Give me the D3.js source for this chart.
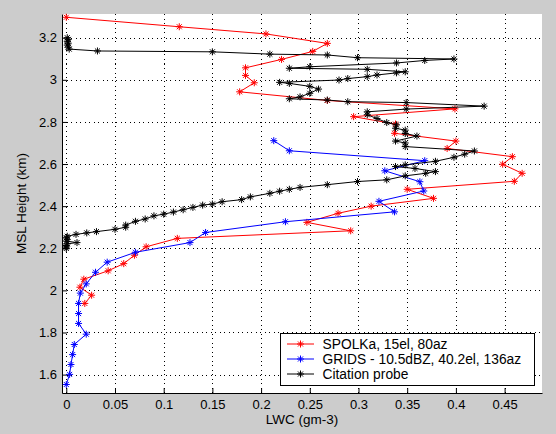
<!DOCTYPE html>
<html lang="en">
<head>
<meta charset="utf-8">
<title>LWC profile</title>
<script src="https://cdn.jsdelivr.net/npm/d3@7"></script>
<style>
  body { margin: 0; background: #cccccc; }
  svg { display: block; font-family: "Liberation Sans", Arial, sans-serif; }
</style>
</head>
<body>
<script>
// tick values and labels
var xTicks = [0, 0.05, 0.1, 0.15, 0.2, 0.25, 0.3, 0.35, 0.4, 0.45];
var xTickLabels = ["0", "0.05", "0.1", "0.15", "0.2", "0.25", "0.3", "0.35", "0.4", "0.45"];
var yTicks = [1.6, 1.8, 2, 2.2, 2.4, 2.6, 2.8, 3, 3.2];
var yTickLabels = ["1.6", "1.8", "2", "2.2", "2.4", "2.6", "2.8", "3", "3.2"];

var seriesNames = ["SPOLKa, 15el, 80az", "GRIDS - 10.5dBZ, 40.2el, 136az", "Citation probe"];

// [LWC, height]
var spolka = [
  [0.000, 3.297], [0.116, 3.252], [0.205, 3.218], [0.268, 3.173], [0.253, 3.135],
  [0.221, 3.097], [0.184, 3.057], [0.184, 3.021], [0.193, 2.986], [0.178, 2.943],
  [0.268, 2.902], [0.399, 2.862], [0.295, 2.825], [0.338, 2.790], [0.337, 2.746],
  [0.400, 2.709], [0.391, 2.674], [0.458, 2.635], [0.448, 2.599], [0.468, 2.556],
  [0.460, 2.518], [0.350, 2.480], [0.377, 2.437], [0.313, 2.400], [0.279, 2.366],
  [0.247, 2.323], [0.292, 2.283], [0.114, 2.247], [0.082, 2.207], [0.070, 2.167],
  [0.059, 2.127], [0.043, 2.093], [0.018, 2.053], [0.014, 2.015], [0.026, 1.977],
  [0.019, 1.938]
];

var grids = [
  [0.213, 2.711], [0.229, 2.663], [0.368, 2.616], [0.327, 2.568], [0.363, 2.516],
  [0.367, 2.472], [0.321, 2.423], [0.337, 2.373], [0.225, 2.326], [0.143, 2.275],
  [0.127, 2.227], [0.071, 2.181], [0.042, 2.134], [0.030, 2.086], [0.0205, 2.031],
  [0.0144, 1.987], [0.0126, 1.938], [0.0126, 1.890], [0.0126, 1.843], [0.0205, 1.792],
  [0.0082, 1.743], [0.0065, 1.695], [0.0048, 1.648], [0.0034, 1.601], [0.000, 1.553]
];

var citation = [
  [0.001, 3.200], [0.002, 3.192], [0.001, 3.183], [0.002, 3.174], [0.001, 3.165],
  [0.002, 3.155], [0.003, 3.146], [0.032, 3.137], [0.150, 3.133], [0.209, 3.122],
  [0.268, 3.118], [0.299, 3.105], [0.398, 3.099], [0.368, 3.092], [0.339, 3.080],
  [0.250, 3.062], [0.229, 3.055], [0.309, 3.050], [0.348, 3.038], [0.339, 3.033],
  [0.319, 3.023], [0.309, 3.015], [0.289, 3.006], [0.280, 2.999], [0.219, 2.988],
  [0.229, 2.983], [0.250, 2.969], [0.259, 2.956], [0.250, 2.936], [0.240, 2.919],
  [0.229, 2.910], [0.268, 2.904], [0.289, 2.896], [0.349, 2.892], [0.429, 2.875],
  [0.349, 2.861], [0.309, 2.848], [0.309, 2.834], [0.319, 2.816], [0.329, 2.797],
  [0.339, 2.786], [0.338, 2.770], [0.348, 2.761], [0.348, 2.745], [0.360, 2.733],
  [0.338, 2.709], [0.348, 2.700], [0.348, 2.683], [0.419, 2.662], [0.409, 2.647],
  [0.398, 2.632], [0.379, 2.613], [0.348, 2.596], [0.338, 2.588], [0.358, 2.579],
  [0.379, 2.564], [0.369, 2.556], [0.348, 2.544], [0.329, 2.525], [0.299, 2.517],
  [0.268, 2.502], [0.240, 2.489], [0.229, 2.480], [0.219, 2.471], [0.209, 2.461],
  [0.189, 2.444], [0.180, 2.431], [0.160, 2.421], [0.150, 2.410], [0.140, 2.405],
  [0.130, 2.394], [0.120, 2.383], [0.110, 2.372], [0.100, 2.362], [0.090, 2.354],
  [0.081, 2.339], [0.071, 2.328], [0.061, 2.310], [0.061, 2.300], [0.050, 2.290],
  [0.031, 2.279], [0.021, 2.273], [0.010, 2.266], [0.001, 2.257], [0.000, 2.250],
  [0.001, 2.242], [0.000, 2.234], [0.011, 2.227], [0.001, 2.221], [0.000, 2.213],
  [0.000, 2.206], [0.000, 2.199]
];

var w = 556, h = 434;
var plotL = 62, plotR = 542, plotT = 14, plotB = 393;
var colors = ["#ff0000", "#0000ff", "#000000"];

var xScale = d3.scaleLinear().domain([-0.0044, 0.4884]).range([plotL, plotR]);
var yScale = d3.scaleLinear().domain([1.5126, 3.3126]).range([plotB, plotT]);

var svg = d3.select("body").append("svg")
  .attr("width", w)
  .attr("height", h);

svg.append("rect")
  .attr("width", w).attr("height", h)
  .attr("fill", "#cccccc");

svg.append("rect")
  .attr("x", plotL).attr("y", plotT)
  .attr("width", plotR - plotL).attr("height", plotB - plotT)
  .attr("fill", "#ffffff");

// dotted grid
var grid = svg.append("g")
  .attr("stroke", "#000")
  .attr("stroke-width", 1)
  .attr("stroke-dasharray", "1,3.5")
  .attr("shape-rendering", "crispEdges");

grid.selectAll("line.gx")
  .data(xTicks)
  .enter()
  .append("line")
  .attr("x1", function(d) { return Math.round(xScale(d)) + 0.5; })
  .attr("x2", function(d) { return Math.round(xScale(d)) + 0.5; })
  .attr("y1", plotT)
  .attr("y2", plotB);

grid.selectAll("line.gy")
  .data(yTicks)
  .enter()
  .append("line")
  .attr("y1", function(d) { return Math.round(yScale(d)) + 0.5; })
  .attr("y2", function(d) { return Math.round(yScale(d)) + 0.5; })
  .attr("x1", plotL)
  .attr("x2", plotR);

// axes
var xAxis = d3.axisBottom(xScale)
  .tickValues(xTicks)
  .tickFormat(function(d, i) { return xTickLabels[i]; })
  .tickSizeInner(-5)
  .tickSizeOuter(0)
  .tickPadding(7);

var yAxis = d3.axisLeft(yScale)
  .tickValues(yTicks)
  .tickFormat(function(d, i) { return yTickLabels[i]; })
  .tickSizeInner(-5)
  .tickSizeOuter(0)
  .tickPadding(5);

var gx = svg.append("g")
  .attr("transform", "translate(0," + plotB + ")")
  .call(xAxis);

var gy = svg.append("g")
  .attr("transform", "translate(" + plotL + ",0)")
  .call(yAxis);

[gx, gy].forEach(function(g) {
  g.selectAll("text")
    .attr("font-family", "'Liberation Sans', Arial, sans-serif")
    .attr("font-size", "13px")
    .attr("fill", "#000");
  g.selectAll("line, path").attr("stroke", "#000");
});

svg.append("text")
  .attr("x", (plotL + plotR) / 2)
  .attr("y", 424)
  .attr("text-anchor", "middle")
  .attr("font-size", "13.5px")
  .text("LWC (gm-3)");

svg.append("text")
  .attr("transform", "translate(26," + (plotT + plotB) / 2 + ") rotate(-90)")
  .attr("text-anchor", "middle")
  .attr("font-size", "13.5px")
  .text("MSL Height (km)");

// lines and asterisk markers
var line = d3.line()
  .x(function(d) { return xScale(d[0]); })
  .y(function(d) { return yScale(d[1]); });

function star(r) {
  var d = r * 0.72;
  return "M" + (-r) + ",0H" + r + "M0," + (-r) + "V" + r +
    "M" + (-d) + "," + (-d) + "L" + d + "," + d +
    "M" + (-d) + "," + d + "L" + d + "," + (-d);
}

svg.append("clipPath").attr("id", "plotclip")
  .append("rect")
  .attr("x", plotL - 4).attr("y", plotT - 4)
  .attr("width", plotR - plotL + 8).attr("height", plotB - plotT + 8);

var allSeries = [spolka, grids, citation];

allSeries.forEach(function(data, i) {
  var g = svg.append("g").attr("clip-path", "url(#plotclip)");
  g.append("path")
    .datum(data)
    .attr("fill", "none")
    .attr("stroke", colors[i])
    .attr("stroke-width", 1)
    .attr("d", line);
  g.selectAll("path.m")
    .data(data)
    .enter()
    .append("path")
    .attr("class", "m")
    .attr("transform", function(d) {
      return "translate(" + xScale(d[0]) + "," + yScale(d[1]) + ")";
    })
    .attr("d", star(3.5))
    .attr("fill", "none")
    .attr("stroke", colors[i])
    .attr("stroke-width", 1);
});

// legend
var legend = svg.append("g");
legend.append("rect")
  .attr("x", 280.5).attr("y", 333.5)
  .attr("width", 254).attr("height", 52)
  .attr("fill", "#fff")
  .attr("stroke", "#000")
  .attr("stroke-width", 1);

seriesNames.forEach(function(name, i) {
  var ly = 344 + i * 15;
  legend.append("line")
    .attr("x1", 287).attr("x2", 314)
    .attr("y1", ly).attr("y2", ly)
    .attr("stroke", colors[i])
    .attr("stroke-width", 1);
  legend.append("path")
    .attr("transform", "translate(300.5," + ly + ")")
    .attr("d", star(3.5))
    .attr("fill", "none")
    .attr("stroke", colors[i]);
  legend.append("text")
    .attr("x", 322.5)
    .attr("y", ly)
    .attr("dy", "0.35em")
    .attr("font-size", "13.8px")
    .text(name);
});
</script>
</body>
</html>
